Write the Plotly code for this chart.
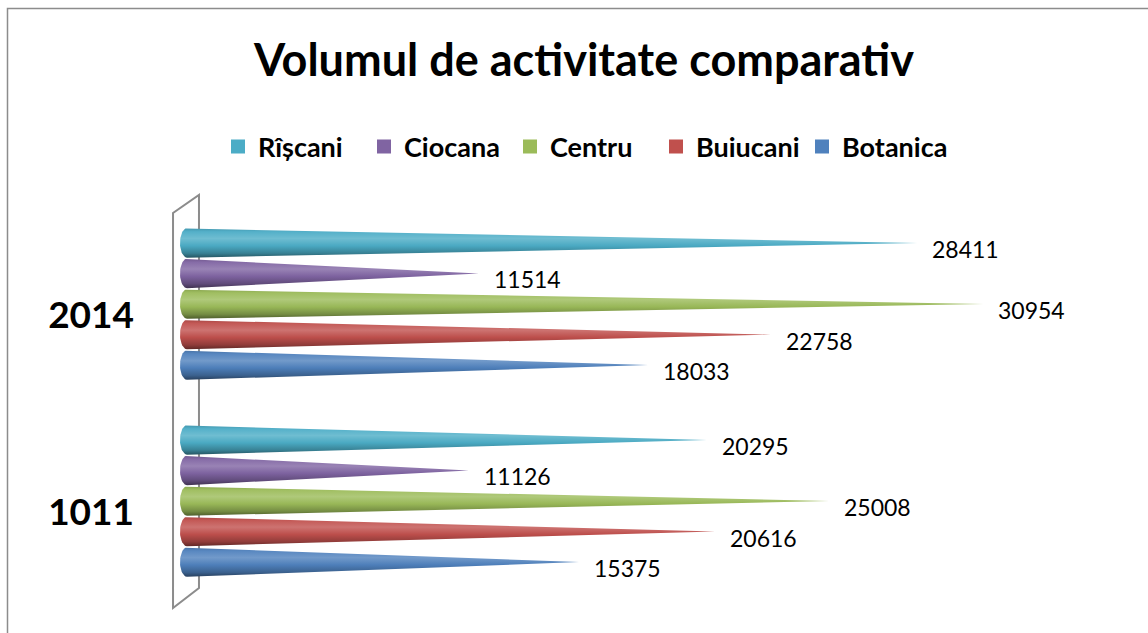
import numpy as np
import plotly.graph_objects as go

# ---- data ----
categories = ["1011", "2014"]
series = ["Rîșcani", "Ciocana", "Centru", "Buiucani", "Botanica"]
values_1011 = [20295, 11126, 25008, 20616, 15375]
values_2014 = [28411, 11514, 30954, 22758, 18033]
colors = ["#4BACC6", "#8064A2", "#9BBB59", "#C0504D", "#4F81BD"]
title_text = "Volumul de activitate comparativ"

# ---- layout geometry (pixels) ----
FW, FH = 1148, 633
ML, MR, MT, MB = 180, 0, 0, 0
PW, PH = FW - ML - MR, FH - MT - MB
px_per_x = 0.02595
XMAX = PW / px_per_x
Y2014_PX, Y1011_PX = 304, 501
px_per_y = Y1011_PX - Y2014_PX
YMAX = 1 + Y2014_PX / px_per_y
YMIN = -(FH - Y1011_PX) / px_per_y

def xp(px):
    return (px - ML) / PW

def yp(py):
    return 1 - py / FH

def mix(hexc, target, t):
    c = np.array([int(hexc[i:i + 2], 16) for i in (1, 3, 5)], float)
    tg = np.array(target, float)
    r = c + (tg - c) * t
    return "rgb(%d,%d,%d)" % tuple(np.clip(r, 0, 255).round())

offsets = [0.31, 0.155, 0.0, -0.155, -0.31]
half_h = 0.0746
rx = 7 / px_per_x

fig = go.Figure()

for g, vals in enumerate([values_1011, values_2014]):
    for i, name in enumerate(series):
        v = vals[i]
        y0 = g + offsets[i]
        th = np.linspace(np.pi / 2, 3 * np.pi / 2, 30)
        ex = rx + rx * np.cos(th)
        ey = y0 + half_h * np.sin(th)
        xs = [v] + list(ex) + [v]
        ys = [y0] + list(ey) + [y0]
        base = colors[i]
        cs = [
            [0.0, mix(base, (0, 0, 0), 0.5)],
            [0.15, mix(base, (0, 0, 0), 0.25)],
            [0.4, mix(base, (0, 0, 0), 0.02)],
            [0.65, mix(base, (255, 255, 255), 0.2)],
            [0.88, mix(base, (255, 255, 255), 0.05)],
            [1.0, mix(base, (0, 0, 0), 0.12)],
        ]
        fig.add_trace(go.Scatter(
            x=xs, y=ys, mode="lines", fill="toself",
            line=dict(width=0, color=base),
            fillgradient=dict(type="vertical", colorscale=cs,
                              start=y0 - half_h, stop=y0 + half_h),
            showlegend=False, hoverinfo="skip",
        ))
        fig.add_annotation(
            x=v, y=y0, xref="x", yref="y", text=str(v),
            showarrow=False, xanchor="left", yanchor="middle",
            xshift=13, yshift=-6,
            font=dict(family="Lato", size=23, color="#000000"),
        )

# legend entries
for i, name in enumerate(series):
    fig.add_trace(go.Scatter(
        x=[None], y=[None], mode="markers", name=name,
        marker=dict(color=colors[i], symbol="square", size=14),
        showlegend=True,
    ))

# wall (3D axis panel) and chart border
wall = "M{:.4f},{:.4f} L{:.4f},{:.4f} L{:.4f},{:.4f} L{:.4f},{:.4f} Z".format(
    xp(173), yp(608), xp(173), yp(213), xp(199), yp(195), xp(199), yp(588))
fig.add_shape(type="path", path=wall, xref="paper", yref="paper",
              line=dict(color="#8C8C8C", width=2), fillcolor="rgba(0,0,0,0)",
              layer="below")
border = "M{:.4f},{:.4f} L{:.4f},{:.4f} L{:.4f},{:.4f}".format(
    xp(7.5), yp(640), xp(7.5), yp(8.5), xp(1150), yp(8.5))
fig.add_shape(type="path", path=border, xref="paper", yref="paper",
              line=dict(color="#8C8C8C", width=1.5), layer="below")

fig.update_layout(
    width=FW, height=FH,
    margin=dict(l=ML, r=MR, t=MT, b=MB, pad=0, autoexpand=False),
    paper_bgcolor="white", plot_bgcolor="white",
    title=dict(text="<b>" + title_text + "</b>", xref="container", yref="container",
               x=584 / FW, y=1 - 60 / FH, xanchor="center", yanchor="middle",
               font=dict(family="Lato", size=45, color="#000000")),
    legend=dict(orientation="h", xref="paper", yref="paper",
                x=xp(583), y=yp(147), xanchor="center", yanchor="middle",
                entrywidth=101, entrywidthmode="pixels",
                font=dict(family="Lato", size=27, color="#000000", weight="bold"),
                traceorder="normal", itemclick=False, bgcolor="rgba(0,0,0,0)"),
    showlegend=True,
    xaxis=dict(range=[0, XMAX], showgrid=False, zeroline=False, automargin=False,
               showticklabels=False, showline=False, fixedrange=True),
    yaxis=dict(range=[YMIN, YMAX], showgrid=False, zeroline=False, showline=False,
               automargin=False,
               tickmode="array", tickvals=[0, 1], ticktext=categories,
               ticks="", ticklabelstandoff=45, ticklabelshift=11,
               tickfont=dict(family="Lato", size=37, color="#000000", weight="bold"),
               fixedrange=True),
)

fig.write_html("out.html", config={"displayModeBar": False},
               post_script="document.body.style.margin='0';")
